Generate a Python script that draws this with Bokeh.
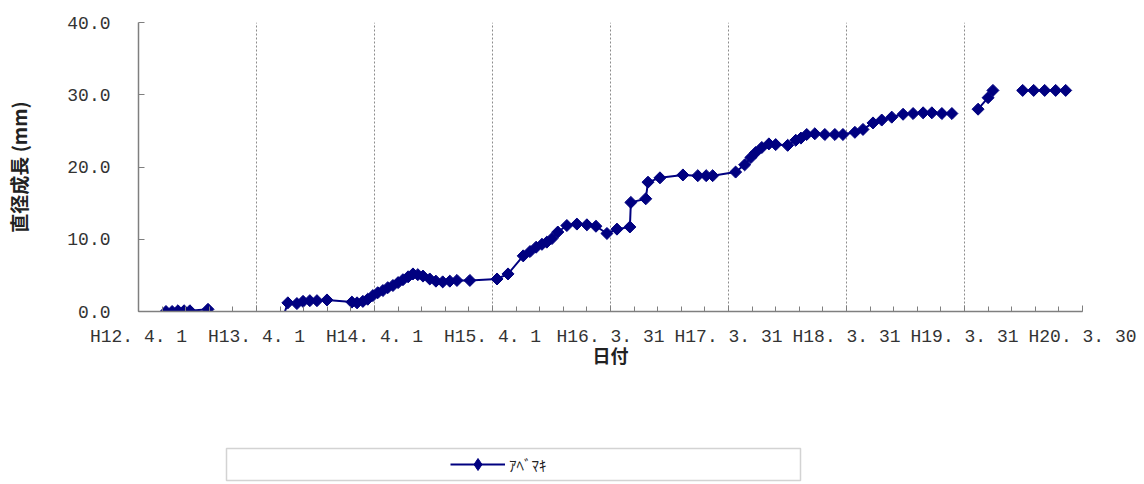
import numpy as np
from bokeh.plotting import figure
from bokeh.models import Range1d, FixedTicker, Legend, LegendItem, NumeralTickFormatter, BoxAnnotation
from bokeh.layouts import column
from bokeh.embed import file_html
from bokeh.resources import INLINE

# Measurement day (days elapsed since H12.4.1) and cumulative diameter growth (mm).
# Each run is an unbroken series of readings; the line is not drawn across gaps.
run1_days = [85, 104, 122, 141, 159, 215]
run1_growth = [0.0, 0.0, 0.1, 0.1, 0.1, 0.3]

run2_days = [447, 462, 490, 509, 530, 552, 583, 660, 676, 694, 709, 725, 740,
             756, 771, 787, 803, 818, 834, 849, 864, 880, 901, 920, 941, 963,
             985, 1025, 1109, 1143, 1190, 1211, 1230, 1248, 1263, 1279, 1297,
             1325, 1356, 1387, 1415, 1449, 1480, 1520, 1523, 1569, 1576, 1613,
             1684, 1730, 1756, 1776, 1847, 1875, 1894, 1909, 1928, 1950, 1971,
             2008, 2033, 2049, 2067, 2092, 2123, 2154, 2179, 2216, 2241, 2272,
             2299, 2330, 2365, 2396, 2427, 2454, 2485, 2516]
run2_growth = [-0.8, 1.2, 1.1, 1.4, 1.5, 1.5, 1.6, 1.3, 1.2, 1.4, 1.7, 2.2, 2.6,
               2.9, 3.3, 3.6, 4.0, 4.4, 4.8, 5.2, 5.1, 4.9, 4.5, 4.2, 4.1, 4.2,
               4.3, 4.3, 4.5, 5.2, 7.7, 8.3, 8.9, 9.3, 9.6, 10.1, 11.0,
               11.9, 12.1, 12.0, 11.8, 10.8, 11.4, 11.7, 15.1, 15.6, 17.9, 18.5,
               18.9, 18.8, 18.8, 18.8, 19.3, 20.3, 21.3, 22.0, 22.7, 23.2, 23.1,
               23.0, 23.7, 24.0, 24.5, 24.6, 24.5, 24.5, 24.5, 24.8, 25.2, 26.1,
               26.5, 26.9, 27.3, 27.4, 27.5, 27.5, 27.4, 27.4]

run3_days = [2597, 2628, 2643]
run3_growth = [28.0, 29.6, 30.6]

run4_days = [2735, 2769, 2803, 2837, 2868]
run4_growth = [30.6, 30.6, 30.6, 30.6, 30.6]

# Date axis: one major tick every 365 days, five minor intervals between them
tick_days = [0, 365, 730, 1095, 1460, 1825, 2190, 2555, 2920]
tick_labels = ["H12. 4. 1", "H13. 4. 1", "H14. 4. 1", "H15. 4. 1", "H16. 3. 31",
               "H17. 3. 31", "H18. 3. 31", "H19. 3. 31", "H20. 3. 30"]
y_ticks = [0, 10, 20, 30, 40]

series_name = "ｱﾍﾞﾏｷ"
navy = "#000080"

# Join the runs with NaN so the line breaks between them
xs, ys = [], []
for d, g in [(run1_days, run1_growth), (run2_days, run2_growth),
             (run3_days, run3_growth), (run4_days, run4_growth)]:
    if xs:
        xs.append(np.nan)
        ys.append(np.nan)
    xs += d
    ys += g

LEFT, RIGHT, FRAME_W = 138, 62, 944

p = figure(frame_width=FRAME_W, frame_height=289,
           min_border_left=LEFT, min_border_right=RIGHT,
           min_border_top=22, min_border_bottom=129,
           x_range=Range1d(0, 2920), y_range=Range1d(0, 40),
           toolbar_location=None, output_backend="svg")
p.outline_line_color = None
p.background_fill_color = "white"
p.border_fill_color = "white"

p.line(xs, ys, line_color=navy, line_width=2)
p.scatter(xs, ys, marker="square", angle=np.pi / 4, size=8.5,
          fill_color=navy, line_color=navy)

tick_font = "Liberation Mono"
axis_gray = "#7f7f7f"

xa = p.xaxis[0]
xa.ticker = FixedTicker(ticks=tick_days, minor_ticks=list(range(0, 2921, 73)))
xa.major_label_overrides = dict(zip(tick_days, tick_labels))
xa.axis_label = "日付"
ya = p.yaxis[0]
ya.ticker = FixedTicker(ticks=y_ticks)
ya.formatter = NumeralTickFormatter(format="0.0")
ya.axis_label = "直径成長 (mm)"

for ax in (xa, ya):
    ax.axis_line_color = axis_gray
    ax.axis_line_width = 1.5
    ax.major_tick_line_color = axis_gray
    ax.major_tick_in = 6
    ax.major_tick_out = 0
    ax.minor_tick_in = 5
    ax.minor_tick_out = 0
    ax.major_label_text_font = tick_font
    ax.major_label_text_font_size = "18px"
    ax.major_label_text_color = "#333333"
    ax.axis_label_text_font = "Noto Sans CJK JP"
    ax.axis_label_text_font_size = "19px"
    ax.axis_label_text_font_style = "bold"
    ax.axis_label_text_color = "#222222"
xa.minor_tick_line_color = axis_gray
ya.minor_tick_line_color = None
xa.axis_label_text_font_size = "18px"

xa.major_label_standoff = 15
xa.axis_label_standoff = -8
ya.major_label_standoff = 28
ya.axis_label_standoff = 32

p.xgrid.ticker = FixedTicker(ticks=tick_days[1:-1])
p.xgrid.grid_line_color = "#8c8c8c"
p.xgrid.grid_line_dash = "2 2"
p.xgrid.grid_line_width = 1
p.ygrid.visible = False

# Legend strip beneath the chart, measured in pixels across the page width
leg = figure(frame_width=FRAME_W, frame_height=36,
             min_border_left=LEFT, min_border_right=RIGHT,
             min_border_top=6, min_border_bottom=2,
             x_range=Range1d(LEFT, LEFT + FRAME_W), y_range=Range1d(0, 36),
             toolbar_location=None, output_backend="svg")
leg.axis.visible = False
leg.grid.visible = False
leg.outline_line_color = None
leg.border_fill_color = "white"
leg.add_layout(BoxAnnotation(left=226, right=800, bottom=2, top=34,
                             fill_alpha=0, line_color="#6e6e6e", line_width=1.5))
leg_line = leg.line([np.nan], [np.nan], line_color=navy, line_width=2)
leg_mark = leg.scatter([np.nan], [np.nan], marker="diamond", size=15,
                       fill_color=navy, line_color=navy)
legend = Legend(items=[LegendItem(label=series_name, renderers=[leg_line, leg_mark])],
                location=(450 - LEFT, 3), border_line_color=None,
                background_fill_alpha=0, glyph_width=55, glyph_height=30,
                label_standoff=4, padding=0, margin=0,
                label_text_font="Noto Sans CJK JP", label_text_font_size="15px",
                label_text_color="#222222")
leg.add_layout(legend, "center")

layout = column(p, leg, spacing=0)
open("out.html", "w").write(file_html(layout, INLINE))
